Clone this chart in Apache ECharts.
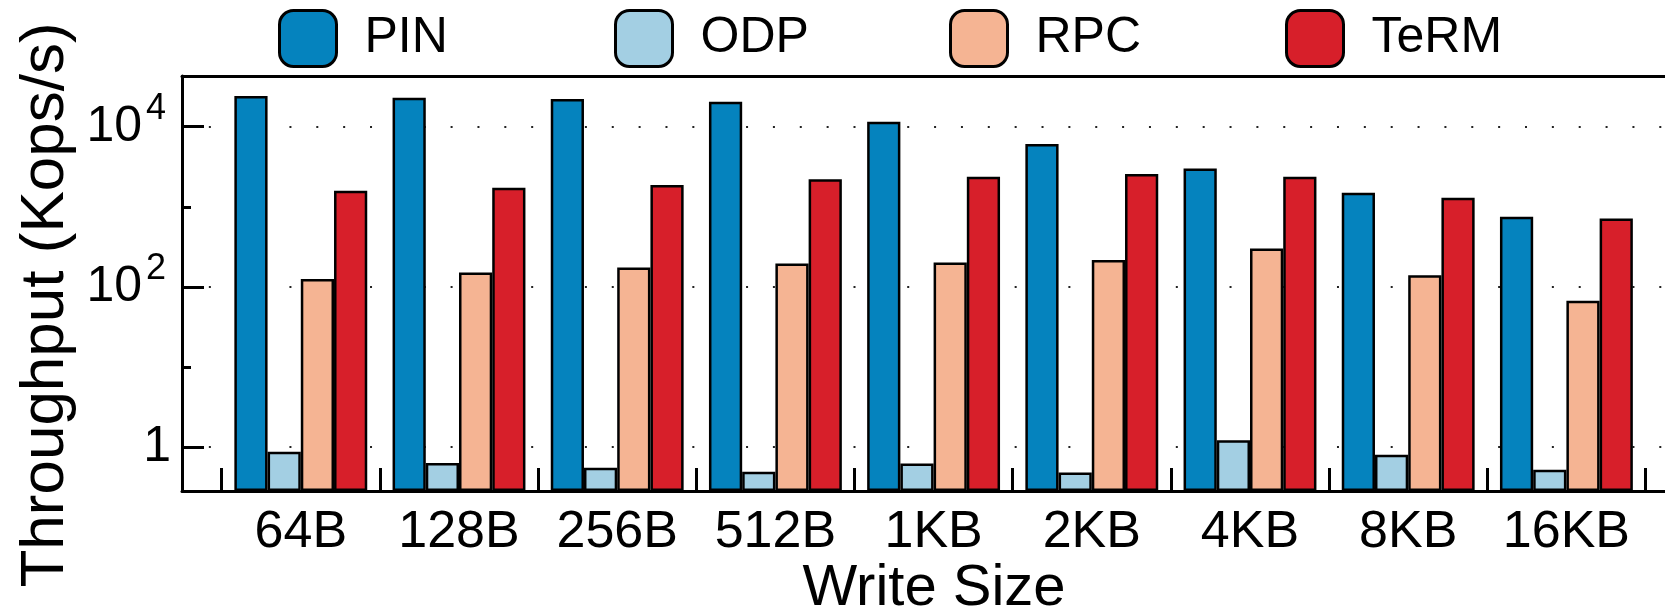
<!DOCTYPE html>
<html>
<head>
<meta charset="utf-8" />
<title>write_size_throughput</title>
<script src="https://cdn.jsdelivr.net/npm/echarts@6/dist/echarts.min.js"></script>
<style>
  html, body { margin: 0; padding: 0; background: #fff; }
  #container { width: 1665px; height: 611px; }
</style>
</head>
<body>
<div id="container"></div>
<script>
    // write size categories
    var sizes = ['64B', '128B', '256B', '512B', '1KB', '2KB', '4KB', '8KB', '16KB'];
    // throughput, Kops/s
    var pinVals  = [24200, 23000, 22200, 20500, 11500, 6100, 3000, 1500, 750];
    var odpVals  = [0.87, 0.63, 0.55, 0.49, 0.62, 0.48, 1.21, 0.80, 0.52];
    var rpcVals  = [125, 151, 175, 196, 202, 216, 302, 140, 67];
    var termVals = [1590, 1730, 1870, 2200, 2370, 2560, 2370, 1300, 716];
    var seriesNames = ['PIN', 'ODP', 'RPC', 'TeRM'];
    // y axis
    var yMin = 0.282, yMax = 43000;
    var majorTicks = [1, 100, 10000];
    var minorTicks = [10, 1000];
    var powTicks = [100, 10000];   // labelled as 10 with an exponent
    var unitTicks = [1];

    var FONT = '"Liberation Sans", Arial, Helvetica, sans-serif';
    var colors = ['#0583be', '#a3cfe3', '#f5b493', '#d71f2a'];
    var legendLeft = [278, 614, 949, 1285];

    var myChart = echarts.init(document.getElementById('container'), null, { renderer: 'canvas' });

    function barSeries(name, vals, color) {
        return {
            name: name, type: 'bar', xAxisIndex: 2, yAxisIndex: 3, data: vals,
            barGap: '0%', barCategoryGap: '16%',
            itemStyle: { color: color, borderColor: '#000', borderWidth: 2.5 }
        };
    }

    // one legend per entry so the slots stay evenly spaced
    var legends = seriesNames.map(function (n, i) {
        return {
            left: legendLeft[i], top: 9, padding: 0, itemWidth: 57, itemHeight: 56, icon: 'roundRect',
            itemStyle: { borderColor: '#000', borderWidth: 3 },
            textStyle: { fontFamily: FONT, fontSize: 50, color: '#000', padding: [0, 0, 0, 23] },
            data: [n]
        };
    });

    var option = {
        animation: false,
        backgroundColor: '#fff',
        color: colors,
        legend: legends,
        grid: [
            // frame grid, right edge runs past the picture
            { left: 182, right: -21, top: 76, bottom: 120, containLabel: false, outerBoundsMode: 'none' },
            // bar grid, between the first and last separator ticks
            { left: 221.7, right: 19.5, top: 76, bottom: 120, containLabel: false, outerBoundsMode: 'none' }
        ],
        xAxis: [
            {
                type: 'value', gridIndex: 0, min: 0, max: 1, position: 'bottom',
                axisLine: { show: true, lineStyle: { color: '#000', width: 3 } },
                axisTick: { show: false }, axisLabel: { show: false }, splitLine: { show: false },
                name: 'Write Size', nameLocation: 'middle', nameGap: 69,
                nameTextStyle: { fontFamily: FONT, fontSize: 58, color: '#000' }
            },
            {
                type: 'value', gridIndex: 0, min: 0, max: 1, position: 'top',
                axisLine: { show: true, lineStyle: { color: '#000', width: 3 } },
                axisTick: { show: false }, axisLabel: { show: false }, splitLine: { show: false }
            },
            {
                type: 'category', gridIndex: 1, data: sizes, boundaryGap: true,
                axisLine: { show: false },
                axisTick: { show: true, inside: true, length: 23, lineStyle: { color: '#000', width: 3 } },
                axisLabel: { interval: 0, fontFamily: FONT, fontSize: 52, color: '#000', margin: 16 },
                splitLine: { show: false }
            }
        ],
        yAxis: [
            {
                // main axis: line, long ticks, dotted grid, "10" of 10^n
                type: 'log', logBase: 10, gridIndex: 0, min: yMin, max: yMax, position: 'left',
                axisLine: { show: true, lineStyle: { color: '#000', width: 3 } },
                axisTick: { show: true, inside: true, length: 22, customValues: majorTicks, lineStyle: { color: '#000', width: 3 } },
                axisLabel: {
                    customValues: powTicks, margin: 40,
                    fontFamily: FONT, fontSize: 50, color: '#000',
                    formatter: function () { return '10'; }
                },
                splitLine: { show: true, lineStyle: { color: '#222', width: 2, type: [2, 24.86] } }
            },
            {
                // short ticks at 10 and 1000, label "1"
                type: 'log', logBase: 10, gridIndex: 0, min: yMin, max: yMax, position: 'left',
                axisLine: { show: false },
                axisTick: { show: true, inside: true, length: 9, customValues: minorTicks, lineStyle: { color: '#000', width: 3 } },
                axisLabel: {
                    customValues: unitTicks, margin: 11,
                    fontFamily: FONT, fontSize: 50, color: '#000',
                    formatter: function () { return '1'; }
                },
                splitLine: { show: false }
            },
            {
                // exponents, raised above the tick
                type: 'log', logBase: 10, gridIndex: 0, min: yMin, max: yMax, position: 'left',
                axisLine: { show: false }, axisTick: { show: false }, splitLine: { show: false },
                axisLabel: {
                    customValues: powTicks, margin: 16, verticalAlign: 'bottom',
                    fontFamily: FONT, fontSize: 36, color: '#000',
                    formatter: function (v) { return String(Math.round(Math.log10(v))); }
                }
            },
            {
                type: 'log', logBase: 10, gridIndex: 1, min: yMin, max: yMax, startValue: yMin,
                axisLine: { show: false }, axisTick: { show: false }, axisLabel: { show: false }, splitLine: { show: false }
            }
        ],
        graphic: [{
            type: 'text', x: 46, y: 305, rotation: Math.PI / 2,
            style: { text: 'Throughput (Kops/s)', font: '62px ' + FONT, fill: '#000', align: 'center', verticalAlign: 'middle' }
        }],
        series: [
            barSeries('PIN', pinVals, colors[0]),
            barSeries('ODP', odpVals, colors[1]),
            barSeries('RPC', rpcVals, colors[2]),
            barSeries('TeRM', termVals, colors[3])
        ]
    };

    myChart.setOption(option);
</script>
</body>
</html>
